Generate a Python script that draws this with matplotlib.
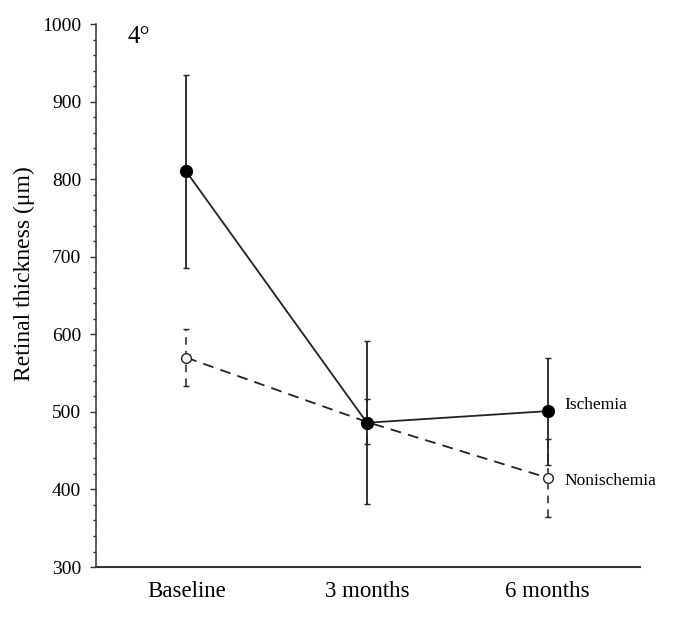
import matplotlib.pyplot as plt

plt.rcParams['font.family'] = ['Liberation Serif', 'DejaVu Serif']

# data
timepoints = ['Baseline', '3 months', '6 months']
ischemia_mean = [810, 486, 501]
ischemia_sd = [124, 105, 69]
nonischemia_mean = [570, 487, 415]
nonischemia_sd = [37, 29, 50]

fig = plt.figure(figsize=(6.85, 6.18), dpi=100)
ax = fig.add_axes([0.140, 0.0825, 0.794, 0.8785])

x = list(range(len(timepoints)))

# nonischemia (dashed, open circles)
eb = ax.errorbar(x, nonischemia_mean, yerr=nonischemia_sd, color='#222222',
                 linestyle=(0, (6, 4)), linewidth=1.3, marker='o', markersize=7,
                 markerfacecolor='white', markeredgecolor='#222222', markeredgewidth=1.0,
                 elinewidth=1.1, capsize=2.5, capthick=1.0, zorder=2)
eb[2][0].set_linestyle((0, (5, 4)))

# ischemia (solid, filled circles)
ax.errorbar(x, ischemia_mean, yerr=ischemia_sd, color='#222222',
            linestyle='-', linewidth=1.3, marker='o', markersize=8.5,
            markerfacecolor='black', markeredgecolor='black',
            elinewidth=1.3, capsize=2.5, capthick=1.0, zorder=3)

ax.set_xlim(-0.5, 2.51)
ax.set_ylim(300, 1000)
ax.set_yticks(range(300, 1001, 100))
ax.set_yticks(range(300, 1001, 20), minor=True)
ax.set_xticks(x)
ax.set_xticklabels(timepoints, fontsize=16.5)
ax.tick_params(axis='y', which='major', labelsize=14, length=4.5, width=1.0, pad=6, color='#333333')
ax.tick_params(axis='y', which='minor', length=2.5, width=1.0, color='#333333')
ax.tick_params(axis='x', length=0, pad=10)

for side in ['top', 'right']:
    ax.spines[side].set_visible(False)
ax.spines['left'].set_color('#333333')
ax.spines['bottom'].set_color('#333333')
ax.spines['left'].set_linewidth(1.1)
ax.spines['bottom'].set_linewidth(1.5)

ax.set_ylabel('Retinal thickness (\u03bcm)', fontsize=17)
ax.yaxis.set_label_coords(-0.112, 0.54)

ax.text(-0.325, 983, '4\u00b0', fontsize=18, va='center', ha='left')
ax.text(2.095, 509, 'Ischemia', fontsize=12.5, va='center', ha='left')
ax.text(2.095, 411, 'Nonischemia', fontsize=12.5, va='center', ha='left')

fig.savefig('out.png', dpi=100)
